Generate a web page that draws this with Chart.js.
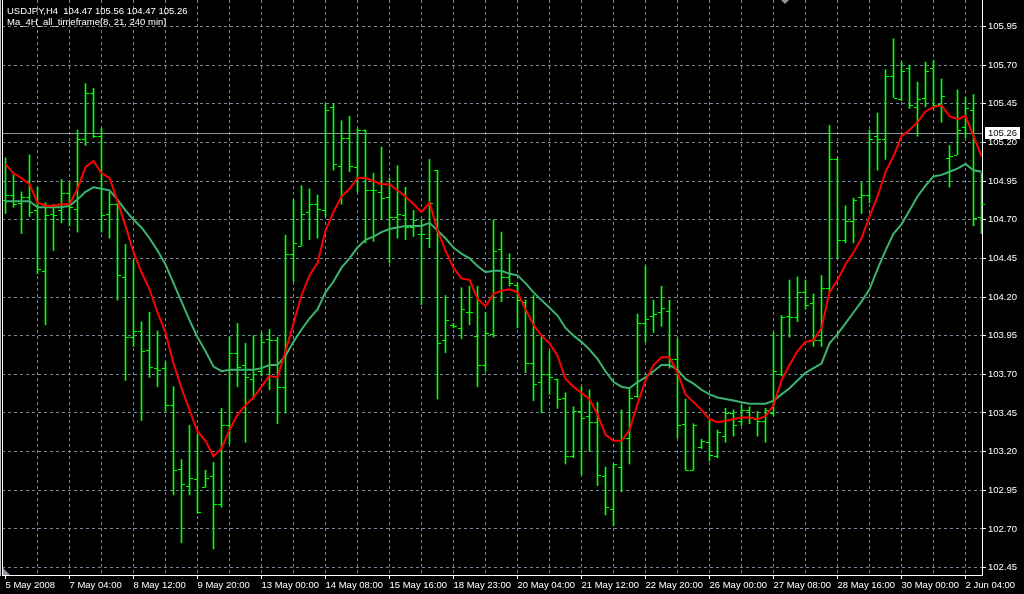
<!DOCTYPE html>
<html><head><meta charset="UTF-8">
<title>USDJPY,H4</title>
<script src="https://cdn.jsdelivr.net/npm/chart.js"></script>
<style>
  html, body { margin: 0; padding: 0; background: #000; overflow: hidden; }
  #wrap { width: 1024px; height: 594px; }
</style></head><body>
<div id="wrap"><canvas id="c" width="1024" height="594"></canvas></div>
<script>
// H4 bars, one per 4 hours
const opens = [104.83,104.86,104.81,104.85,104.76,104.37,104.74,104.76,104.87,104.77,105.22,105.52,105.24,104.74,104.80,104.33,103.94,103.98,103.86,103.74,
  103.74,103.50,103.09,102.98,103.02,102.97,103.04,102.86,103.37,103.84,103.76,103.67,103.72,103.93,103.92,103.62,104.48,104.53,104.75,104.80,
  104.76,105.43,105.05,105.23,105.04,105.28,104.89,104.88,104.85,104.72,104.73,104.65,104.61,104.58,105.02,103.92,104.02,104.00,104.10,103.95,
  103.76,103.96,104.51,104.33,104.28,104.17,103.77,103.65,103.70,103.67,103.55,103.17,103.46,103.43,103.39,103.04,102.83,103.10,103.29,103.56,
  104.03,104.08,104.10,104.11,103.80,103.38,103.08,103.23,103.26,103.17,103.30,103.45,103.40,103.47,103.41,103.40,103.45,103.70,104.08,104.07,
  104.23,104.16,103.92,104.26,105.09,104.57,104.69,104.85,104.86,105.24,105.22,105.63,105.48,105.68,105.43,105.49,105.68,105.45,105.10,105.12,
  105.30,105.41,104.72];
const highs = [105.10,104.99,104.88,105.12,104.91,104.81,104.80,104.96,104.94,105.28,105.58,105.55,105.29,104.88,104.81,104.54,104.44,104.04,104.10,103.98,
  103.78,103.62,103.15,103.37,103.31,103.08,103.13,103.48,103.94,104.03,103.90,103.95,103.97,103.99,103.94,104.60,104.83,104.92,104.90,104.86,
  105.45,105.45,105.34,105.37,105.29,105.28,105.00,105.17,104.97,105.05,104.91,104.76,104.70,105.09,105.02,104.21,104.03,104.26,104.27,104.27,
  104.10,104.70,104.62,104.48,104.29,104.18,104.21,103.95,103.85,103.67,103.58,103.49,103.62,103.60,103.52,103.10,103.12,103.47,103.61,104.09,
  104.40,104.18,104.27,104.18,103.93,103.54,103.38,103.28,103.40,103.34,103.48,103.47,103.50,103.49,103.46,103.48,103.97,104.08,104.31,104.33,
  104.31,104.22,104.34,105.31,105.10,104.79,104.84,104.94,105.28,105.39,105.67,105.87,105.72,105.70,105.59,105.72,105.73,105.61,105.18,105.54,
  105.49,105.51,105.00];
const lows = [104.74,104.78,104.61,104.72,104.35,104.02,104.50,104.68,104.66,104.62,105.18,105.23,104.62,104.58,104.18,103.66,103.88,103.40,103.68,103.62,
  103.46,102.92,102.61,102.92,102.80,102.97,102.57,102.84,103.25,103.62,103.26,103.54,103.69,103.60,103.38,103.45,104.30,104.53,104.57,104.58,
  104.72,105.02,104.80,105.01,104.88,104.55,104.56,104.70,104.42,104.58,104.57,104.59,104.15,104.52,103.54,103.84,104.00,103.93,104.02,103.62,
  103.72,103.94,104.17,104.27,104.00,103.71,103.53,103.45,103.57,103.48,103.12,103.16,103.05,103.20,102.98,102.79,102.72,102.94,103.12,103.55,
  103.91,103.97,104.01,103.74,103.29,103.08,103.08,103.22,103.14,103.16,103.26,103.30,103.37,103.38,103.30,103.26,103.43,103.69,103.94,104.04,
  104.12,103.88,103.88,104.23,104.45,104.55,104.55,104.74,104.81,105.02,105.09,105.49,105.47,105.42,105.24,105.43,105.42,105.33,104.91,105.12,
  105.23,104.66,104.61];
const closes = [104.86,104.80,104.85,104.75,104.38,104.73,104.73,104.87,104.78,105.22,105.52,105.24,104.73,104.80,104.34,103.94,103.98,103.85,103.75,103.73,
  103.50,103.08,102.99,103.03,102.81,103.03,102.86,103.37,103.84,103.75,103.68,103.70,103.91,103.92,103.62,104.48,104.55,104.74,104.80,104.77,
  105.41,105.06,105.23,105.05,105.28,104.89,104.89,104.84,104.72,104.74,104.65,104.70,104.61,104.81,103.90,104.05,104.01,104.12,104.10,103.76,
  103.97,104.50,104.33,104.29,104.18,103.77,103.64,103.70,103.68,103.54,103.17,103.46,103.42,103.39,103.05,102.84,103.12,103.29,103.55,104.03,
  104.06,104.09,104.13,103.80,103.37,103.08,103.37,103.27,103.18,103.33,103.45,103.37,103.47,103.42,103.40,103.47,103.72,104.07,104.07,104.23,
  104.15,103.92,104.26,105.09,104.57,104.69,104.83,104.86,105.22,105.22,105.63,105.49,105.66,105.44,105.48,105.66,105.44,105.50,105.11,105.28,
  105.42,104.71,104.80];

// Ma_4H_all_timeframe lines (fast = red, slow = green)
const maFast = [105.06,105.00,104.97,104.93,104.81,104.79,104.79,104.80,104.80,104.90,105.04,105.08,105.00,104.97,104.82,104.66,104.49,104.36,104.25,104.10,
  103.97,103.77,103.61,103.47,103.33,103.27,103.17,103.22,103.34,103.44,103.50,103.55,103.62,103.69,103.68,103.85,104.03,104.21,104.34,104.42,
  104.63,104.75,104.85,104.90,104.97,104.97,104.95,104.93,104.93,104.89,104.85,104.80,104.75,104.81,104.63,104.50,104.39,104.32,104.31,104.19,
  104.14,104.22,104.24,104.25,104.23,104.12,104.02,103.95,103.90,103.82,103.67,103.62,103.58,103.54,103.44,103.31,103.27,103.27,103.34,103.51,
  103.66,103.76,103.81,103.81,103.71,103.57,103.52,103.47,103.41,103.39,103.40,103.41,103.42,103.42,103.41,103.43,103.50,103.66,103.76,103.85,
  103.91,103.92,104.00,104.23,104.31,104.41,104.49,104.58,104.72,104.85,105.01,105.11,105.24,105.28,105.33,105.40,105.43,105.44,105.37,105.35,
  105.37,105.24,105.11];
const maSlow = [104.82,104.82,104.82,104.82,104.78,104.78,104.78,104.78,104.79,104.83,104.88,104.91,104.90,104.89,104.83,104.76,104.70,104.65,104.58,104.50,
  104.41,104.29,104.17,104.05,103.94,103.85,103.75,103.72,103.73,103.73,103.73,103.73,103.74,103.76,103.76,103.82,103.91,103.99,104.06,104.12,
  104.23,104.30,104.39,104.45,104.52,104.57,104.59,104.62,104.64,104.65,104.66,104.66,104.66,104.68,104.63,104.58,104.52,104.48,104.45,104.40,
  104.36,104.37,104.37,104.35,104.34,104.29,104.23,104.18,104.13,104.08,104.00,103.95,103.91,103.86,103.80,103.72,103.65,103.62,103.61,103.65,
  103.68,103.72,103.76,103.76,103.73,103.67,103.64,103.60,103.57,103.55,103.54,103.53,103.52,103.51,103.51,103.51,103.53,103.57,103.61,103.66,
  103.71,103.74,103.77,103.90,103.96,104.03,104.10,104.17,104.25,104.38,104.50,104.61,104.67,104.76,104.85,104.92,104.98,104.99,105.01,105.03,
  105.06,105.02,105.01];

// time axis labels, one every 8 bars
const dateLabels = ['5 May 2008','7 May 04:00','8 May 12:00','9 May 20:00','13 May 00:00','14 May 08:00','15 May 16:00','18 May 23:00',
  '20 May 04:00','21 May 12:00','22 May 20:00','26 May 00:00','27 May 08:00','28 May 16:00','30 May 00:00','2 Jun 04:00'];
const priceTicks = [102.45,102.70,102.95,103.20,103.45,103.70,103.95,104.20,104.45,104.70,104.95,105.20,105.45,105.70,105.95];
const lastPrice = 105.26;
const headerLines = ['USDJPY,H4  104.47 105.56 104.47 105.26', 'Ma_4H_all_timeframe(8, 21, 240 min)'];

const FONT = '"Liberation Sans", Arial, sans-serif';
const GRID = '#778899';

// open / close ticks of the OHLC bars, drawn right after the high-low bars
const ohlcTicks = {
  id: 'ohlcTicks',
  afterDatasetDraw(chart, args) {
    if (args.index !== 0) return;
    const { ctx, scales: { x, y } } = chart;
    ctx.save();
    ctx.fillStyle = '#00ff00';
    opens.forEach((o, i) => {
      const px = Math.floor(x.getPixelForValue(i));
      ctx.fillRect(px - 3, Math.round(y.getPixelForValue(o)), 3, 1);
      ctx.fillRect(px + 1, Math.round(y.getPixelForValue(closes[i])), 3, 1);
    });
    ctx.restore();
  }
};

// current price line behind the bars, price box on the axis
const priceLine = {
  id: 'priceLine',
  beforeDatasetsDraw(chart) {
    const { ctx, chartArea, scales: { y } } = chart;
    const py = Math.round(y.getPixelForValue(lastPrice));
    ctx.save();
    ctx.fillStyle = '#8a96a4';
    ctx.fillRect(chartArea.left, py, chartArea.right - chartArea.left, 1);
    ctx.restore();
  },
  afterDraw(chart) {
    const { ctx, chartArea, scales: { y } } = chart;
    const py = Math.round(y.getPixelForValue(lastPrice));
    ctx.save();
    ctx.fillStyle = '#fff';
    ctx.fillRect(chartArea.right + 3, py - 6, 35, 12);
    ctx.fillStyle = '#000';
    ctx.font = '9.5px ' + FONT;
    ctx.textBaseline = 'middle';
    ctx.fillText(lastPrice.toFixed(2), chartArea.right + 6, py + 0.5);
    ctx.restore();
  }
};

// window frame, header text, shift marker
const frame = {
  id: 'frame',
  afterDraw(chart) {
    const { ctx, chartArea } = chart;
    ctx.save();
    ctx.fillStyle = '#c0c0c0';
    ctx.fillRect(0, 0, 1, chartArea.bottom + 1);
    ctx.fillStyle = '#fff';
    ctx.fillRect(chartArea.left, 0, 1, chartArea.bottom + 1);
    ctx.fillStyle = '#8a96a4';
    ctx.beginPath();
    ctx.moveTo(781, 0); ctx.lineTo(789, 0); ctx.lineTo(785, 4); ctx.closePath(); ctx.fill();
    ctx.beginPath();
    ctx.moveTo(chartArea.left + 1, chartArea.bottom - 7); ctx.lineTo(chartArea.left + 1, chartArea.bottom);
    ctx.lineTo(chartArea.left + 8, chartArea.bottom); ctx.closePath(); ctx.fill();
    ctx.fillStyle = '#fff';
    ctx.font = '9.5px ' + FONT;
    ctx.textBaseline = 'alphabetic';
    ctx.fillText(headerLines[0], 7, 14);
    ctx.fillText(headerLines[1], 7, 25);
    ctx.restore();
  }
};

new Chart(document.getElementById('c'), {
  type: 'line',
  data: {
    datasets: [
      {
        type: 'bar',
        label: 'USDJPY',
        data: highs.map((h, i) => ({ x: i, y: [lows[i], h] })),
        backgroundColor: '#00ff00',
        borderWidth: 0,
        barThickness: 1,
        order: 3
      },
      {
        label: 'MA 21',
        data: maSlow.map((v, i) => ({ x: i, y: v })),
        borderColor: '#3cb371',
        borderWidth: 2,
        pointRadius: 0,
        tension: 0,
        order: 2
      },
      {
        label: 'MA 8',
        data: maFast.map((v, i) => ({ x: i, y: v })),
        borderColor: '#ff0000',
        borderWidth: 2,
        pointRadius: 0,
        tension: 0,
        order: 1
      }
    ]
  },
  options: {
    responsive: false,
    devicePixelRatio: 1,
    animation: false,
    events: [],
    layout: { padding: { left: 2, top: 0, right: 0, bottom: 0 } },
    plugins: { legend: { display: false }, tooltip: { enabled: false } },
    scales: {
      x: {
        type: 'linear',
        min: -0.4375,
        max: 122.0625,
        offset: false,
        afterBuildTicks: s => {
          const t = [];
          for (let v = 0; v <= (dateLabels.length - 1) * 8; v += 4) t.push({ value: v });
          s.ticks = t;
        },
        afterFit: s => { s.height = 19; s.paddingLeft = 0; s.paddingRight = 0; },
        ticks: {
          autoSkip: false, maxRotation: 0, minRotation: 0, align: 'start', padding: 1,
          color: '#fff', font: { family: FONT, size: 9.5 },
          callback: v => (v % 8 === 0 ? dateLabels[v / 8] : '')
        },
        grid: {
          offset: false, lineWidth: 1, tickLength: 4,
          color: c => (c.tick && c.tick.value === 0 ? 'rgba(0,0,0,0)' : GRID),
          tickColor: c => (c.tick && c.tick.value % 8 === 0 ? '#fff' : 'rgba(0,0,0,0)')
        },
        border: { color: '#fff', dash: [3, 3] }
      },
      y: {
        type: 'linear',
        position: 'right',
        min: 102.402,
        max: 106.121,
        afterBuildTicks: s => { s.ticks = priceTicks.map(v => ({ value: v })); },
        afterFit: s => { s.width = 42; s.paddingTop = 0; s.paddingBottom = 0; },
        ticks: {
          padding: 2, color: '#fff', font: { family: FONT, size: 9.5 },
          callback: v => v.toFixed(2)
        },
        grid: { color: GRID, tickColor: '#fff', tickLength: 4, lineWidth: 1 },
        border: { color: '#fff', dash: [3, 3] }
      }
    }
  },
  plugins: [ohlcTicks, priceLine, frame]
});
</script>
</body></html>
